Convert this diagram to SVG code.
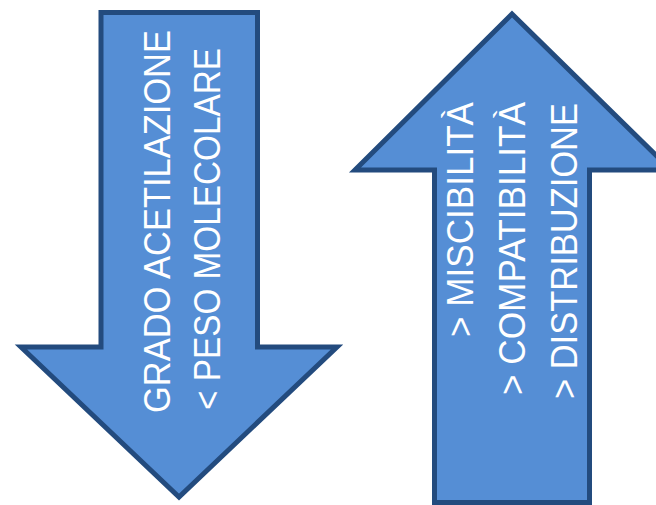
<svg xmlns="http://www.w3.org/2000/svg" width="656" height="505" viewBox="0 0 656 505">
<style>
.arrow{fill:#558ED5;stroke:#234B7E;stroke-width:5;stroke-linejoin:miter;stroke-miterlimit:10}
.lbl{fill:#FFFFFF;font-family:"Liberation Sans","Open Sans",Arial,sans-serif;font-size:36px}
</style>
<rect width="656" height="505" fill="#FFFFFF"/>
<g id="down-arrow">
<polygon class="arrow" points="101,12.5 257.5,12.5 257.5,347 337,347 179,497 21,347 101,347"/>
<text class="lbl" transform="translate(170,413) rotate(-90)" textLength="383" lengthAdjust="spacingAndGlyphs">GRADO ACETILAZIONE</text>
<text class="lbl" transform="translate(220,410) rotate(-90)" textLength="362" lengthAdjust="spacingAndGlyphs">&lt; PESO MOLECOLARE</text>
</g>
<g id="up-arrow">
<polygon class="arrow" points="512,14 671,170 589.5,170 589.5,502.5 434.5,502.5 434.5,170 355,170"/>
<text class="lbl" transform="translate(473,337) rotate(-90)" textLength="235" lengthAdjust="spacingAndGlyphs">&gt; MISCIBILITÀ</text>
<text class="lbl" transform="translate(525,395) rotate(-90)" textLength="293" lengthAdjust="spacingAndGlyphs">&gt; COMPATIBILITÀ</text>
<text class="lbl" transform="translate(577,399) rotate(-90)" textLength="296" lengthAdjust="spacingAndGlyphs">&gt; DISTRIBUZIONE</text>
</g>
<g id="connectors"/>
</svg>
